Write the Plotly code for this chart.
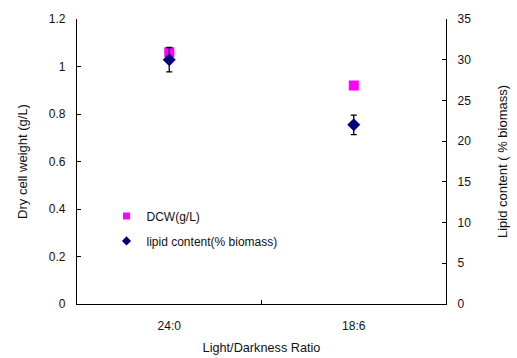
import plotly.graph_objects as go

# Light/darkness treatments
ratios = ["24:0", "18:6"]

# Dry cell weight (g/L)
dcw = [1.06, 0.92]

# Lipid content (% of biomass) with error
lipid = [30.0, 22.0]
lipid_err = [1.5, 1.2]

font_family = "Liberation Sans, Arial, sans-serif"
ink = "#111111"
dcw_color = "#ff00ff"
lipid_color = "#000080"

fig = go.Figure()

fig.add_trace(go.Scatter(
    x=ratios, y=dcw, mode="markers", name="DCW(g/L)",
    marker=dict(symbol="square", size=10, color=dcw_color),
    showlegend=False, yaxis="y",
))

fig.add_trace(go.Scatter(
    x=ratios, y=lipid, mode="markers", name="lipid content(% biomass)",
    marker=dict(symbol="diamond", size=10, color=lipid_color),
    error_y=dict(type="data", array=lipid_err, visible=True,
                 color="black", thickness=1.3, width=3),
    showlegend=False, yaxis="y2",
))

# legend keys drawn with smaller symbols than the data markers
fig.add_trace(go.Scatter(
    x=[None], y=[None], mode="markers", name="DCW(g/L)",
    marker=dict(symbol="square", size=7, color=dcw_color),
    legendgroup="a",
))
fig.add_trace(go.Scatter(
    x=[None], y=[None], mode="markers", name="lipid content(% biomass)",
    marker=dict(symbol="diamond", size=7, color=lipid_color),
    legendgroup="b",
))

axis_common = dict(
    showline=True, linecolor="black", linewidth=1.3,
    ticks="inside", ticklen=4, tickcolor="black",
    showgrid=False, zeroline=False, automargin=False,
    tickfont=dict(size=12, color=ink),
)

fig.update_layout(
    width=517, height=358,
    margin=dict(l=76.5, r=70.5, t=18.5, b=54, autoexpand=False),
    paper_bgcolor="white", plot_bgcolor="white",
    font=dict(family=font_family, size=12, color=ink),
    showlegend=True,
    legend=dict(
        x=0.08, y=0.36, xanchor="left", yanchor="top",
        bgcolor="rgba(0,0,0,0)", font=dict(size=12, color=ink),
        tracegroupgap=6, itemwidth=30, itemsizing="trace",
    ),
    xaxis=dict(
        type="category", range=[-0.5, 1.5], tickson="boundaries",
        title=dict(text="Light/Darkness Ratio", standoff=11,
                   font=dict(size=12.7, color=ink)),
        ticklabelstandoff=10,
        **axis_common,
    ),
    yaxis=dict(
        range=[0, 1.2], dtick=0.2, tick0=0,
        title=dict(text="Dry cell weight (g/L)", standoff=18,
                   font=dict(size=13, color=ink)),
        ticklabelstandoff=8,
        **axis_common,
    ),
    yaxis2=dict(
        range=[0, 35], dtick=5, tick0=0,
        overlaying="y", side="right",
        title=dict(text="Lipid content ( % biomass)", standoff=27,
                   font=dict(size=13, color=ink)),
        ticklabelstandoff=8,
        **axis_common,
    ),
)

fig.write_html("out.html")
